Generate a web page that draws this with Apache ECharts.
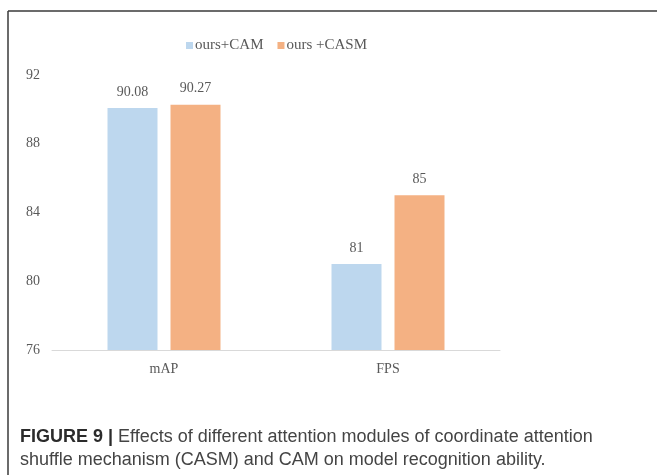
<!DOCTYPE html>
<html>
<head>
<meta charset="utf-8">
<script src="https://cdn.jsdelivr.net/npm/echarts@6/dist/echarts.min.js"></script>
<style>html,body{margin:0;padding:0;background:#fff;}#c{width:657px;height:475px;}</style>
</head>
<body>
<div id="c"></div>
<script>
var categories = ['mAP', 'FPS'];
var seriesNames = ['ours+CAM', 'ours +CASM'];
var camValues = [90.08, 81];
var casmValues = [90.27, 85];
var yTicks = [76, 80, 84, 88, 92];
var captionBold = 'FIGURE 9 |';
var captionLine1 = ' Effects of different attention modules of coordinate attention';
var captionLine2 = 'shuffle mechanism (CASM) and CAM on model recognition ability.';

var chart = echarts.init(document.getElementById('c'));
var serif = 'Liberation Serif';
var labelFmt = function (p) { return String(p.value); };
chart.setOption({
  animation: false,
  backgroundColor: '#fff',
  legend: {
    data: seriesNames,
    top: 33,
    left: 181,
    icon: 'rect',
    itemWidth: 7,
    itemHeight: 7,
    itemGap: 14,
    textStyle: { fontFamily: serif, fontSize: 15, color: '#595959', padding: [0, 0, 0, -3] }
  },
  grid: { left: 52, right: 157, top: 75, bottom: 125, containLabel: false },
  xAxis: {
    type: 'category',
    data: categories,
    axisLine: { lineStyle: { color: '#d9d9d9', width: 1 } },
    axisTick: { show: false },
    axisLabel: { fontFamily: serif, fontSize: 14, color: '#595959', margin: 12 }
  },
  yAxis: {
    type: 'value',
    min: yTicks[0],
    max: yTicks[yTicks.length - 1],
    interval: 4,
    axisLine: { show: false },
    axisTick: { show: false },
    splitLine: { show: false },
    axisLabel: { fontFamily: serif, fontSize: 14, color: '#595959', margin: 12 }
  },
  series: [
    {
      name: seriesNames[0], type: 'bar', data: camValues,
      barWidth: 50, barGap: '26%',
      itemStyle: { color: '#BDD7EE' },
      label: { show: true, position: 'top', distance: 9, formatter: labelFmt, fontFamily: serif, fontSize: 14, color: '#595959' }
    },
    {
      name: seriesNames[1], type: 'bar', data: casmValues,
      barWidth: 50, barGap: '26%',
      itemStyle: { color: '#F4B183' },
      label: { show: true, position: 'top', distance: 9, formatter: labelFmt, fontFamily: serif, fontSize: 14, color: '#595959' }
    }
  ],
  graphic: [
    { type: 'line', shape: { x1: 8, y1: 11, x2: 8, y2: 475 }, style: { stroke: '#3a3a3a', lineWidth: 1.5 } },
    { type: 'line', shape: { x1: 8, y1: 11, x2: 657, y2: 11 }, style: { stroke: '#3a3a3a', lineWidth: 1.5 } },
    {
      type: 'text', left: 20, top: 428,
      style: {
        text: '{b|' + captionBold + '}{n|' + captionLine1 + '}\n{n|' + captionLine2 + '}',
        rich: {
          b: { fontFamily: 'Liberation Sans', fontWeight: 'bold', fontSize: 18, fill: '#2b2b2b', lineHeight: 23 },
          n: { fontFamily: 'Liberation Sans', fontSize: 18, fill: '#444', lineHeight: 23 }
        }
      }
    }
  ]
});
</script>
</body>
</html>
